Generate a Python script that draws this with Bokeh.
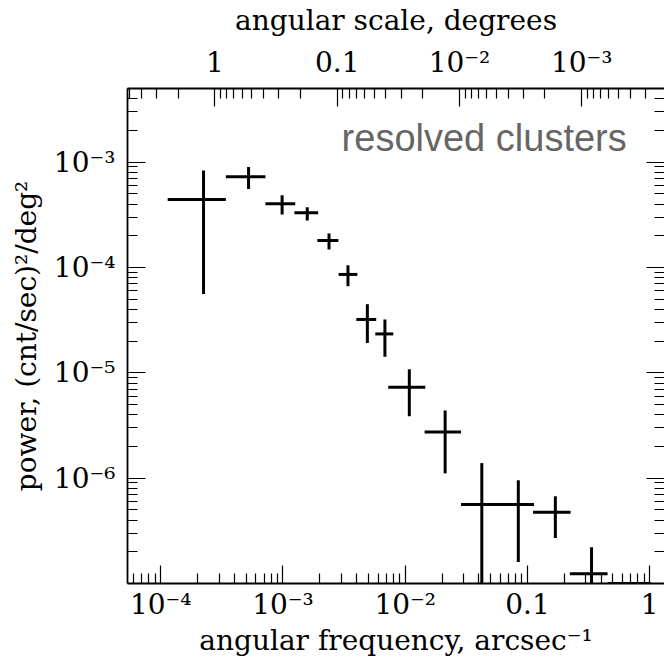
import math

from bokeh.embed import file_html
from bokeh.models import (ColumnDataSource, CustomJSTickFormatter, FixedTicker,
                          Label, LogAxis, LogScale, Range1d)
from bokeh.plotting import figure
from bokeh.resources import INLINE

# Power spectrum of resolved clusters: angular frequency (arcsec^-1) vs power
freq = [2.24e-4, 5.23e-4, 9.84e-4, 1.58e-3, 2.38e-3, 3.40e-3, 4.90e-3, 6.82e-3,
        1.08e-2, 2.12e-2, 4.23e-2, 8.41e-2, 0.169, 0.334, 0.67]
freq_lo = [1.14e-4, 3.41e-4, 7.19e-4, 1.24e-3, 1.91e-3, 2.85e-3, 3.98e-3, 5.69e-3,
           7.26e-3, 1.44e-2, 2.86e-2, 5.74e-2, 0.111, 0.222, 0.452]
freq_hi = [3.41e-4, 7.19e-4, 1.26e-3, 1.94e-3, 2.84e-3, 4.06e-3, 5.79e-3, 7.98e-3,
           1.46e-2, 2.86e-2, 5.74e-2, 0.113, 0.225, 0.452, 1.02]
power = [4.43e-4, 7.25e-4, 4.02e-4, 3.30e-4, 1.80e-4, 8.59e-5, 3.21e-5, 2.34e-5,
         7.30e-6, 2.75e-6, 5.61e-7, 5.61e-7, 4.74e-7, 1.24e-7, 1.0e-7]
power_hi = [8.33e-4, 8.97e-4, 4.86e-4, 3.74e-4, 2.10e-4, 1.05e-4, 4.48e-5, 3.21e-5,
            1.08e-5, 4.39e-6, 1.39e-6, 9.55e-7, 6.73e-7, 2.21e-7, 1.0e-7]
power_lo = [5.61e-5, 5.57e-4, 3.18e-4, 2.79e-4, 1.48e-4, 6.64e-5, 1.92e-5, 1.42e-5,
            3.87e-6, 1.11e-6, 1.0e-8, 1.60e-7, 2.70e-7, 1.0e-8, 1.0e-7]

x_start, x_end = 5.35e-5, 1.32
y_start, y_end = 1.0e-7, 5.0e-3

freq_major = [1e-4, 1e-3, 1e-2, 1e-1, 1.0]
power_major = [1e-6, 1e-5, 1e-4, 1e-3]
deg_major = [10.0, 1.0, 0.1, 0.01, 1e-3, 1e-4]

ARCSEC_PER_DEG = 3600.0


def minors(lo_exp, hi_exp):
    return [m * 10.0 ** e for e in range(lo_exp, hi_exp) for m in range(2, 10)]


label_js = """
const e = Math.round(Math.log10(tick));
if (e == 0) { return "1"; }
if (e == -1) { return "0.1"; }
const sup = {"-": "\u207b", "0": "\u2070", "1": "\u00b9", "2": "\u00b2", "3": "\u00b3",
             "4": "\u2074", "5": "\u2075", "6": "\u2076", "7": "\u2077", "8": "\u2078", "9": "\u2079"};
return "10" + String(e).split("").map(c => sup[c]).join("");
"""

SERIF = "DejaVu Serif"
TICK_SIZE = "28px"
TITLE_SIZE = "28px"

p = figure(width=664, height=659, x_axis_type="log", y_axis_type="log",
           x_range=Range1d(x_start, x_end), y_range=Range1d(y_start, y_end),
           output_backend="svg", toolbar_location=None,
           min_border_left=127, min_border_right=0, min_border_top=87,
           min_border_bottom=76, x_axis_location=None, y_axis_location=None)
p.outline_line_color = None
p.xgrid.visible = False
p.ygrid.visible = False
p.background_fill_color = "white"
p.border_fill_color = "white"

p.extra_x_ranges = {"deg": Range1d(1.0 / (ARCSEC_PER_DEG * x_start),
                                   1.0 / (ARCSEC_PER_DEG * x_end))}
p.extra_x_scales = {"deg": LogScale()}


def style(ax, labelled=True):
    ax.axis_line_color = "black"
    ax.axis_line_width = 1.8
    ax.major_tick_in = 18
    ax.major_tick_out = 0
    ax.minor_tick_in = 10
    ax.minor_tick_out = 0
    ax.major_tick_line_color = "black"
    ax.minor_tick_line_color = "black"
    ax.major_tick_line_width = 1.2
    ax.minor_tick_line_width = 1.2
    ax.major_label_text_font = SERIF
    ax.major_label_text_font_size = TICK_SIZE
    ax.major_label_text_color = "black"
    ax.axis_label_text_font = SERIF
    ax.axis_label_text_font_size = TITLE_SIZE
    ax.axis_label_text_font_style = "normal"
    ax.axis_label_text_color = "black"
    if labelled:
        ax.formatter = CustomJSTickFormatter(code=label_js)


bottom = LogAxis(ticker=FixedTicker(ticks=freq_major, minor_ticks=minors(-5, 1)),
                 axis_label="angular frequency, arcsec\u207b\u00b9")
style(bottom)
bottom.major_label_standoff = 4
bottom.axis_label_standoff = 0
p.add_layout(bottom, "below")

top = LogAxis(x_range_name="deg",
              ticker=FixedTicker(ticks=deg_major, minor_ticks=minors(-4, 2)),
              axis_label="angular scale, degrees")
style(top)
top.major_label_standoff = 10
top.axis_label_standoff = 6
p.add_layout(top, "above")

left = LogAxis(ticker=FixedTicker(ticks=power_major, minor_ticks=minors(-7, -2)),
               axis_label="power, (cnt/sec)\u00b2/deg\u00b2")
style(left)
left.major_label_standoff = 12
left.axis_label_standoff = 8
p.add_layout(left, "left")

right = LogAxis(ticker=FixedTicker(ticks=power_major, minor_ticks=minors(-7, -2)))
style(right, labelled=False)
right.axis_line_color = None
right.major_label_text_font_size = "0px"
right.major_label_standoff = 0
right.axis_label_standoff = 0
right.major_label_overrides = {t: "" for t in power_major}
p.add_layout(right, "right")

src = ColumnDataSource(dict(freq=freq, freq_lo=freq_lo, freq_hi=freq_hi,
                            power=power, power_lo=power_lo, power_hi=power_hi))

# horizontal bars: bin width in frequency
p.segment(x0="freq_lo", x1="freq_hi", y0="power", y1="power", source=src,
          line_color="black", line_width=3)
# vertical bars: power uncertainty
p.segment(x0="freq", x1="freq", y0="power_lo", y1="power_hi", source=src,
          line_color="black", line_width=3)

p.add_layout(Label(x=0.648, y=1.68e-3, text="resolved clusters",
                   text_align="right", text_baseline="alphabetic",
                   text_font="Liberation Sans", text_font_size="38px",
                   text_color="#666666"))

open("out.html", "w").write(file_html(p, INLINE))
